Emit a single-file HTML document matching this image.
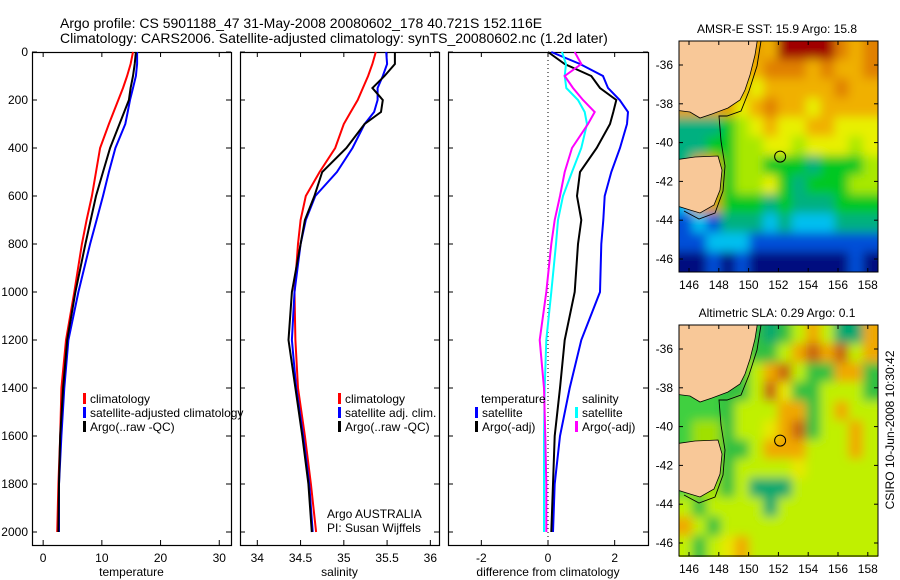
<!DOCTYPE html>
<html><head><meta charset="utf-8">
<style>
html,body{margin:0;padding:0;background:#fff;}
svg{display:block;font-family:"Liberation Sans",sans-serif;}
</style></head>
<body>
<svg id="chart" width="900" height="580" viewBox="0 0 900 580">
<defs>
<filter id="blur" filterUnits="userSpaceOnUse" x="600" y="0" width="300" height="580"><feGaussianBlur stdDeviation="5"/></filter>
<clipPath id="clip1"><rect x="679" y="41" width="199" height="231"/></clipPath>
<clipPath id="clip2"><rect x="679" y="325" width="199" height="232"/></clipPath>
</defs>
<text x="60" y="28" font-size="14">Argo profile: CS 5901188_47 31-May-2008 20080602_178 40.721S 152.116E</text>
<text x="60" y="43" font-size="14">Climatology: CARS2006. Satellite-adjusted climatology: synTS_20080602.nc (1.2d later)</text>
<g id="plots"></g>
</svg>
<script>
const depths=[0,50,100,150,200,250,300,400,500,600,700,800,1000,1200,1400,1600,1800,2000];
const tClim=[15.3,14.9,14.3,13.6,12.8,12.0,11.2,9.7,9.0,8.3,7.4,6.6,5.3,3.9,3.1,2.9,2.6,2.4];
const tSat=[16.0,16.0,15.8,15.3,14.8,14.4,14.0,12.3,11.2,10.2,9.1,8.0,6.0,4.3,3.6,3.1,2.7,2.7];
const tArgo=[15.8,15.6,15.3,14.9,14.6,13.8,13.0,11.4,10.2,9.0,8.1,7.2,5.5,4.1,3.4,2.9,2.7,2.6];
const sClim=[35.37,35.33,35.28,35.22,35.16,35.08,35.00,34.90,34.72,34.56,34.50,34.47,34.43,34.44,34.47,34.55,34.62,34.68];
const sSat=[35.49,35.50,35.45,35.39,35.39,35.35,35.24,35.10,34.92,34.67,34.56,34.50,34.43,34.40,34.45,34.53,34.60,34.64];
const sArgo=[35.59,35.59,35.47,35.33,35.45,35.43,35.24,35.03,34.75,34.66,34.55,34.50,34.40,34.36,34.44,34.52,34.59,34.63];
const dTSat=[0.1,0.96,1.65,1.8,2.15,2.4,2.37,2.16,1.9,1.7,1.66,1.6,1.56,1.0,0.65,0.36,0.2,0.15];
const dTArgo=[0,0.5,1.3,1.56,2.05,1.96,1.86,1.46,0.96,0.87,1.0,0.9,0.8,0.5,0.36,0.2,0.15,0.1];
const dSSat=[0.42,0.54,0.5,0.55,0.9,1.1,1.17,1.0,0.72,0.45,0.3,0.24,0.1,-0.05,-0.1,-0.12,-0.12,-0.12];
const dSArgo=[0.8,1.0,0.5,0.75,1.05,1.4,1.2,0.72,0.5,0.36,0.2,0.1,-0.05,-0.25,-0.12,-0.08,-0.05,-0.05];
const depthTicks=[0,200,400,600,800,1000,1200,1400,1600,1800,2000];
const tTicks=[0,10,20,30];
const sTicks=[34,34.5,35,35.5,36];
const dTicks=[-2,0,2];
const lonTicks=[146,148,150,152,154,156,158];
const latTicks=[-36,-38,-40,-42,-44,-46];
const sstGrid=["xxxxxxORRRRDOD","xxxxxODDDODOOD","xxxxxYOOOOODOO","xxxxYODOOYOOOO","TTTGLYOYYOOYYY","TTGGLLYYLYYYLY","TxxGLLGGGTGGGL","TxxGLLYGTGGGLL","CxxGGGTGTTTGGG","BCBTTTCTCCCTTT","BBCCCBBBBBBBBB","NNBNBNNNNNNNBN"];
const slaGrid=["xxxxxGTGLOLTTO","xxxxxGGLODODLO","xxxxGLODLGGOOG","gggGGLDYGGLLLG","gggGLLLOOGLOLL","gxxGLLYODGLLOL","gxxGGLOOOLLLOL","gxxGLLLLYLLLLL","gxxGLTTTLLLLLL","LGLLLLTLLLLLLL","OLGLLLLLLLLLLL","LGLYOLLLLLLLLL"];

const NS="http://www.w3.org/2000/svg";
const root=document.getElementById('plots');
function mk(tag,attrs,parent){const e=document.createElementNS(NS,tag);for(const k in attrs)e.setAttribute(k,attrs[k]);(parent||root).appendChild(e);return e;}
const top0=52,bot=545,yScale=d=>52+d*0.24;

function panel(name,L,R,x0,x1,ticks,fmt,xlabel,series,showY){
  const g=mk('g',{});
  
  
  const xs=v=>L+(v-x0)/(x1-x0)*(R-L);
  const fr=mk('rect',{x:L+0.5,y:top0+0.5,width:R-L,height:bot-top0,fill:'none',stroke:'#000','stroke-width':1.2},g);
  
  
  ticks.forEach(v=>{const x=xs(v);
    mk('line',{x1:x,x2:x,y1:bot,y2:bot-5,stroke:'#000'},g);
    mk('line',{x1:x,x2:x,y1:top0,y2:top0+5,stroke:'#000'},g);
    const t=mk('text',{x:x,y:562,'font-size':12,'text-anchor':'middle'},g);t.textContent=fmt(v);
    
    
  });
  depthTicks.forEach(d=>{const y=yScale(d);
    mk('line',{x1:L,x2:L+5,y1:y,y2:y,stroke:'#000'},g);
    mk('line',{x1:R,x2:R-5,y1:y,y2:y,stroke:'#000'},g);
    if(showY){const t=mk('text',{x:28,y:y+4,'font-size':12,'text-anchor':'end'},g);t.textContent=d;
      
      }
  });
  const xl=mk('text',{x:(L+R)/2,y:576,'font-size':12,'text-anchor':'middle'},g);xl.textContent=xlabel;
  
  
  return {g,xs};
}
function drawLine(p,vals,color,nm){
  const pts=vals.map((v,i)=>p.xs(v).toFixed(1)+','+yScale(depths[i]).toFixed(1)).join(' ');
  const l=mk('polyline',{points:pts,fill:'none',stroke:color,'stroke-width':2},p.g);
  
  
}
function legend(g,x,y,color,label,nm){
  if(color)mk('rect',{x:x-7,y:y-9,width:3,height:11,fill:color},g);
  const t=mk('text',{x:x,y:y+1,'font-size':12},g);t.textContent=label;
  
  
}

const p1=panel('temperature-panel',32,231,-1.9,32,tTicks,v=>v,'temperature',null,true);
drawLine(p1,tClim,'#f00','temp-climatology-line');
drawLine(p1,tSat,'#00f','temp-satellite-line');
drawLine(p1,tArgo,'#000','temp-argo-line');
legend(p1.g,90,402,'#f00','climatology','legend-climatology');
legend(p1.g,90,416,'#00f','satellite-adjusted climatology','legend-satellite');
legend(p1.g,90,430,'#000','Argo(..raw -QC)','legend-argo');

const p2=panel('salinity-panel',240,439,33.8,36.1,sTicks,v=>v,'salinity',null,false);
drawLine(p2,sClim,'#f00','sal-climatology-line');
drawLine(p2,sSat,'#00f','sal-satellite-line');
drawLine(p2,sArgo,'#000','sal-argo-line');
legend(p2.g,345,402,'#f00','climatology','legend-climatology');
legend(p2.g,345,416,'#00f','satellite adj. clim.','legend-satellite');
legend(p2.g,345,430,'#000','Argo(..raw -QC)','legend-argo');
legend(p2.g,327,517,null,'Argo AUSTRALIA','credit-argo');
legend(p2.g,327,531,null,'PI: Susan Wijffels','credit-pi');

const p3=panel('difference-panel',448,648,-3,3,dTicks,v=>v,'difference from climatology',null,false);
mk('line',{x1:p3.xs(0),x2:p3.xs(0),y1:top0,y2:bot,stroke:'#000','stroke-dasharray':'1,3'},p3.g);
drawLine(p3,dTSat,'#00f','diff-temp-satellite-line');
drawLine(p3,dTArgo,'#000','diff-temp-argo-line');
drawLine(p3,dSSat,'#0ff','diff-sal-satellite-line');
drawLine(p3,dSArgo,'#f0f','diff-sal-argo-line');
legend(p3.g,481,402,null,'temperature','legend-temperature-header');
legend(p3.g,482,416,'#00f','satellite','legend-temp-satellite');
legend(p3.g,482,430,'#000','Argo(-adj)','legend-temp-argo');
legend(p3.g,582,402,null,'salinity','legend-salinity-header');
legend(p3.g,582,416,'#0ff','satellite','legend-sal-satellite');
legend(p3.g,582,430,'#f0f','Argo(-adj)','legend-sal-argo');

const sstCol={N:'#00107f',B:'#0050d8',C:'#00c0f0',T:'#00b080',G:'#00c820',L:'#a8e800',Y:'#e8f000',O:'#f0b000',D:'#e08000',R:'#a00000',x:'#e8a000'};
const slaCol={G:'#30c040',g:'#40d040',T:'#00a870',L:'#c0f000',Y:'#e8e800',O:'#f0a800',D:'#c86010',x:'#a0e000'};
function map(name,T,grid,pal,title,clip){
  const g=mk('g',{});
  
  
  const L=679,R=878,B=T+231;
  const lonX=lo=>689+(lo-146)*14.9;
  const latY=la=>T+24+(-36-la)*19.4;
  const tt=mk('text',{x:777,y:T-8,'font-size':12,'text-anchor':'middle'},g);tt.textContent=title;
  
  
  const cg=mk('g',{'clip-path':'url(#'+clip+')'},g);
  const fg=mk('g',{filter:'url(#blur)'},cg);
  const cw=(R-L)/14,ch=(B-T)/12;
  grid.forEach((row,r)=>{for(let c=0;c<14;c++){
    const ext=(c===13?cw*2:0),exty=(r===11?ch*2:0),pre=(c===0?cw:0),prey=(r===0?ch:0);
    mk('rect',{x:L+c*cw-1-pre,y:T+r*ch-1-prey,width:cw+2+ext+pre,height:ch+2+exty+prey,fill:pal[row[c]]},fg);}});
  mk('path',{d:`M${L-5},${T-5} L${L+79},${T-5} L${L+76},${T+14} L${L+71},${T+34} L${L+66},${T+49} L${L+61},${T+59} L${L+49},${T+67} L${L+33},${T+73} L${L+21},${T+77} L${L+11},${T+71} L${L-5},${T+69}Z`,fill:'#f8c898',stroke:'#000','stroke-width':0.8},cg);
  mk('path',{d:`M${L-5},${T+119} L${L+16},${T+116} L${L+39},${T+115} L${L+43},${T+129} L${L+41},${T+149} L${L+35},${T+164} L${L+21},${T+172} L${L+11},${T+169} L${L-5},${T+164}Z`,fill:'#f8c898',stroke:'#000','stroke-width':0.8},cg);
  mk('path',{d:`M${L+82},${T} L${L+78},${T+25} L${L+70},${T+50} L${L+62},${T+70} L${L+48},${T+75} L${L+40},${T+75} L${L+42},${T+100} L${L+46},${T+125} L${L+44},${T+150} L${L+36},${T+172} L${L+20},${T+178} L${L+5},${T+170}`,fill:'none',stroke:'#000','stroke-width':0.9},cg);
  const fr=mk('rect',{x:L,y:T,width:R-L,height:B-T,fill:'none',stroke:'#000','stroke-width':1},g);
  
  
  lonTicks.forEach(lo=>{const x=lonX(lo);
    mk('line',{x1:x,x2:x,y1:B,y2:B-4,stroke:'#000'},g);mk('line',{x1:x,x2:x,y1:T,y2:T+4,stroke:'#000'},g);
    const t=mk('text',{x:x,y:B+17,'font-size':12,'text-anchor':'middle'},g);t.textContent=lo;
    
    });
  latTicks.forEach(la=>{const y=latY(la);
    mk('line',{x1:L,x2:L+4,y1:y,y2:y,stroke:'#000'},g);mk('line',{x1:R,x2:R-4,y1:y,y2:y,stroke:'#000'},g);
    const t=mk('text',{x:L-6,y:y+4,'font-size':12,'text-anchor':'end'},g);t.textContent=la;
    
    });
  const c=mk('circle',{cx:lonX(152.116),cy:latY(-40.721),r:5.5,fill:'none',stroke:'#000','stroke-width':1},g);
  
  
}
map('sst-map',41,sstGrid,sstCol,'AMSR-E SST: 15.9 Argo: 15.8','clip1');
map('sla-map',325,slaGrid,slaCol,'Altimetric SLA: 0.29 Argo: 0.1','clip2');
const st=mk('text',{x:894,y:430,'font-size':12,'text-anchor':'middle',transform:'rotate(-90 894 430)'});
st.textContent='CSIRO 10-Jun-2008 10:30:42';


</script>
</body></html>
